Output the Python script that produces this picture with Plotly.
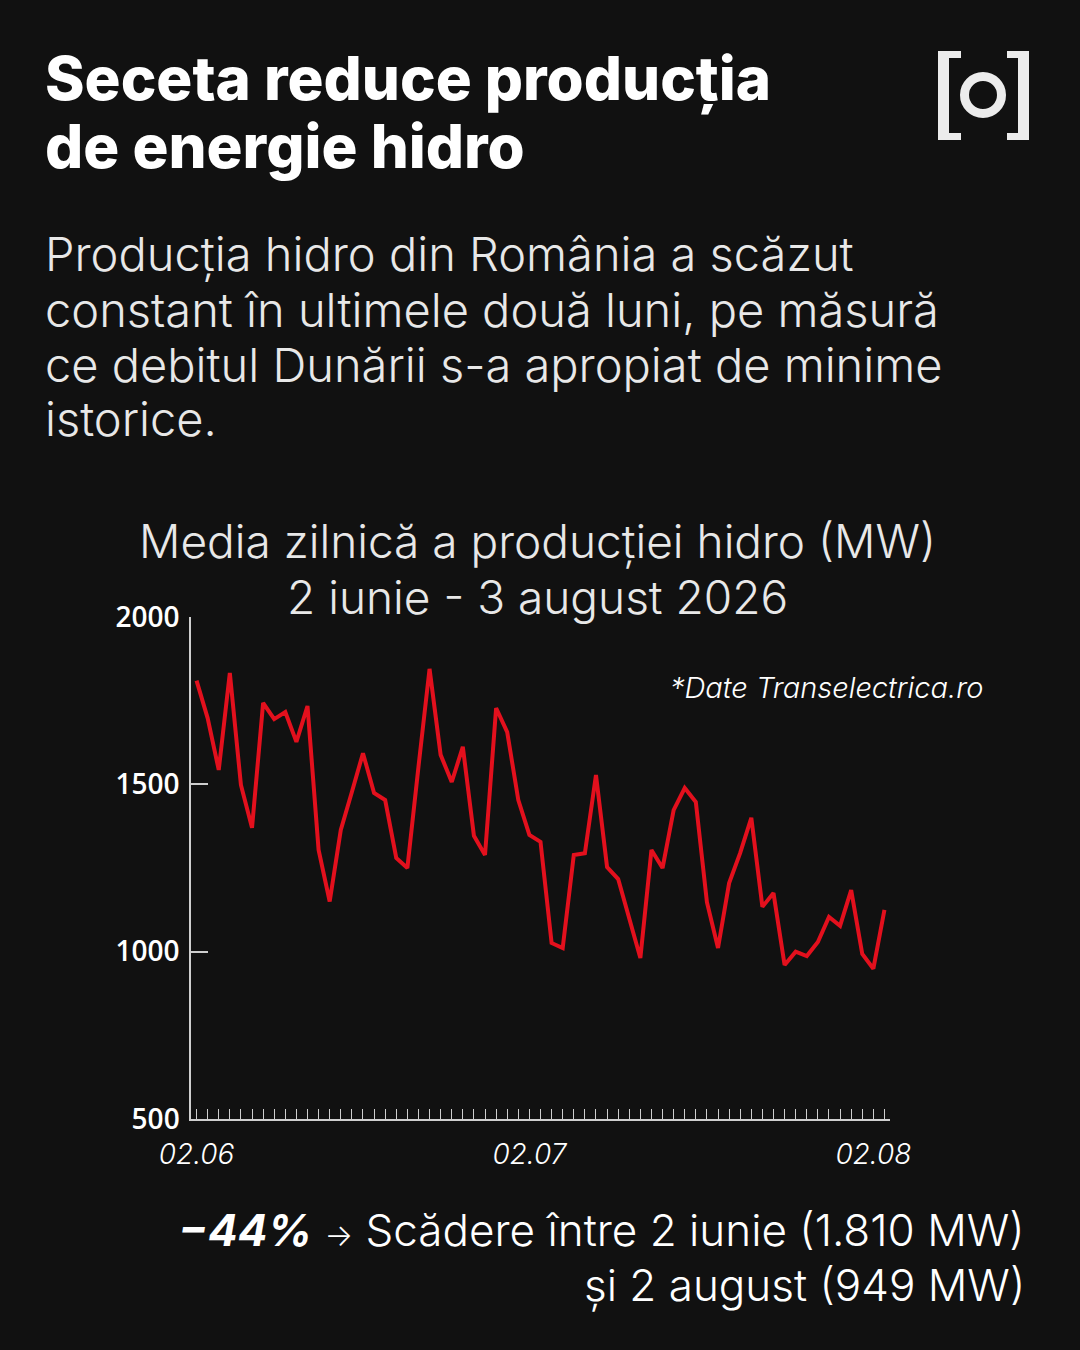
import plotly.graph_objects as go
import pandas as pd

# daily mean hydro output, 2 June - 3 August 2026 (MW)
start_day = "2026-06-02"
hydro_mw = [1810, 1698, 1543, 1833, 1498, 1370, 1743, 1695, 1716, 1627,
            1734, 1304, 1150, 1364, 1477, 1593, 1474, 1453, 1280, 1250,
            1552, 1845, 1588, 1507, 1612, 1346, 1289, 1728, 1656, 1453,
            1349, 1328, 1026, 1011, 1289, 1294, 1528, 1253, 1217, 1100,
            981, 1304, 1250, 1423, 1489, 1447, 1148, 1011, 1205, 1295,
            1400, 1134, 1175, 960, 1000, 987, 1029, 1104, 1077, 1184,
            993, 949, 1125]
days = pd.date_range(start_day, periods=len(hydro_mw), freq="D")

x_tick_dates = ["2026-06-02", "2026-07-02", "2026-08-02"]
x_tick_labels = ["02.06", "02.07", "02.08"]
y_ticks = [500, 1000, 1500, 2000]

title_lines = ["Seceta reduce producția", "de energie hidro"]
intro_lines = ["Producția hidro din România a scăzut",
               "constant în ultimele două luni, pe măsură",
               "ce debitul Dunării s-a apropiat de minime",
               "istorice."]
chart_title = ["Media zilnică a producției hidro (MW)", "2 iunie - 3 august 2026"]
source_note = "*Date Transelectrica.ro"
bottom_lines = ["<b><i>−44%</i></b> <span style='font-size:30px'>→</span> Scădere între 2 iunie (1.810 MW)",
                "și 2 august (949 MW)"]

W, H = 1080, 1350
L, R, T, B = 191, 890, 617, 1119
BG = "#111111"
RED = "#e3101d"
AXIS = "#cfcfcf"
FONT = "Inter"


def px(x):
    return (x - L) / (R - L)


def py(y):
    return (B - y) / (B - T)


fig = go.Figure(go.Scatter(x=days, y=hydro_mw, mode="lines",
                           line=dict(color=RED, width=4),
                           hoverinfo="skip"))

ann = []
for i, t in enumerate(title_lines):
    ann.append(dict(text=t, x=px(43), y=py(78 + i * 68), xanchor="left", yanchor="middle",
                    font=dict(family=FONT, size=60, color="white", weight=800)))
for i, t in enumerate(intro_lines):
    ann.append(dict(text=t, x=px(43), y=py(254 + i * 55), xanchor="left", yanchor="middle",
                    font=dict(family=FONT, size=47, color="#e8e8e8", weight=300)))
for i, t in enumerate(chart_title):
    ann.append(dict(text=t, x=px(537), y=py(541 + i * 56), xanchor="center", yanchor="middle",
                    font=dict(family=FONT, size=46, color="#e8e8e8", weight=300)))
ann.append(dict(text="<i>" + source_note + "</i>", x=px(985), y=py(687), xanchor="right",
                yanchor="middle", font=dict(family=FONT, size=29, color="white", weight=300)))
for i, t in enumerate(bottom_lines):
    ann.append(dict(text=t, x=px(1027), y=py(1230 + i * 55), xanchor="right", yanchor="middle",
                    font=dict(family=FONT, size=44, color="white", weight=300)))
for a in ann:
    a.update(xref="paper", yref="paper", showarrow=False)

# logo [o]
LOGO = "#ececec"
shapes = []
for x0, x1, y0, y1 in [(938, 949, 51, 140), (938, 961, 51, 58), (938, 961, 133, 140),
                       (1018, 1029, 51, 140), (1007, 1029, 51, 58), (1007, 1029, 133, 140)]:
    shapes.append(dict(type="rect", xref="paper", yref="paper",
                       x0=px(x0), x1=px(x1), y0=py(y1), y1=py(y0),
                       fillcolor=LOGO, line=dict(width=0), layer="above"))
shapes.append(dict(type="circle", xref="paper", yref="paper",
                   x0=px(983 - 18.5), x1=px(983 + 18.5), y0=py(95 + 18.5), y1=py(95 - 18.5),
                   line=dict(color=LOGO, width=9), fillcolor="rgba(0,0,0,0)"))

fig.update_layout(
    width=W, height=H,
    paper_bgcolor=BG, plot_bgcolor=BG,
    margin=dict(l=L, r=W - R, t=T, b=H - B, pad=0),
    showlegend=False,
    annotations=ann,
    shapes=shapes,
    font=dict(family=FONT, color="white"),
)
fig.update_xaxes(
    range=[pd.Timestamp(start_day) - pd.Timedelta(hours=12),
           days[-1] + pd.Timedelta(hours=12)],
    tickvals=x_tick_dates, ticktext=x_tick_labels,
    ticks="inside", ticklen=10, tickcolor=AXIS, tickwidth=1,
    minor=dict(ticks="inside", dtick=86400000, tick0=start_day, ticklen=10,
               tickcolor=AXIS, tickwidth=1),
    tickfont=dict(family=FONT, size=28, color="white", style="italic", weight=300),
    ticklabelstandoff=10,
    showline=True, linecolor=AXIS, linewidth=1.5,
    showgrid=False, zeroline=False,
)
fig.update_yaxes(
    range=[500, 2000], tickvals=y_ticks,
    ticks="inside", ticklen=17, tickcolor=AXIS, tickwidth=1.5,
    tickfont=dict(family="Open Sans", size=28, color="white", weight=600),
    ticklabelstandoff=4,
    showline=True, linecolor=AXIS, linewidth=1.5,
    showgrid=False, zeroline=False,
)

fig.write_html("out.html", config={"displayModeBar": False},
               post_script="document.body.style.margin='0';document.body.style.background='#111111';")
